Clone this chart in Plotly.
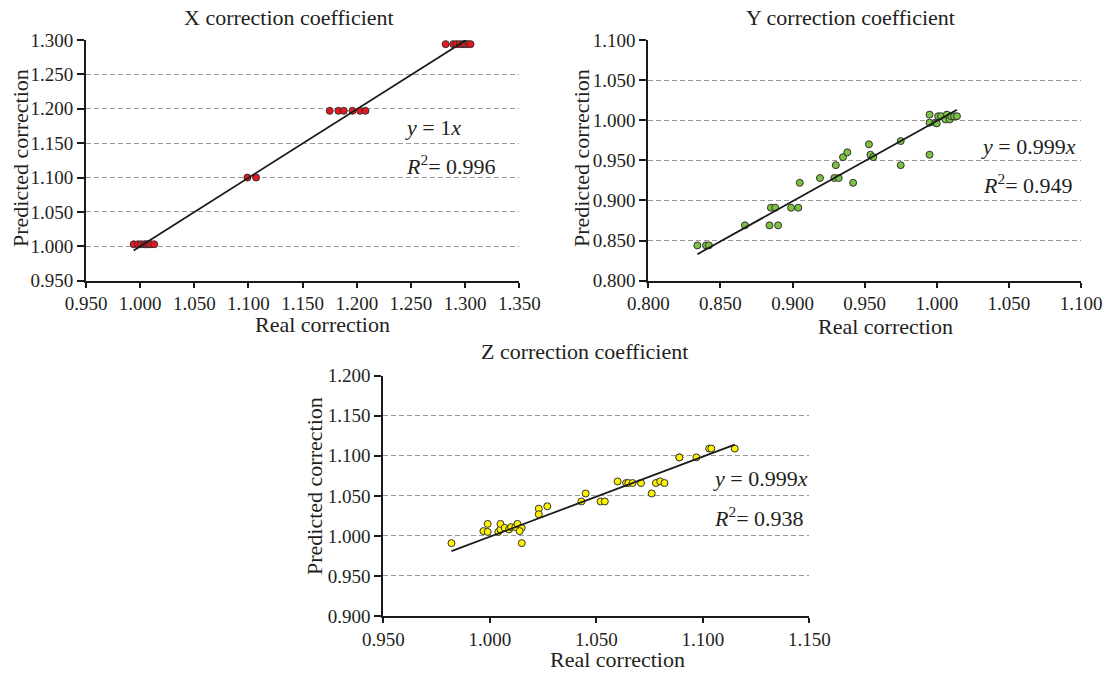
import plotly.graph_objects as go

W, H = 1112, 675
FONT = "Liberation Serif"
INK = "#231f20"

# ---------------- data ----------------
# X correction coefficient
x_real = [0.994, 0.998, 1.001, 1.004, 1.006, 1.008, 1.010, 1.013,
          1.099, 1.107,
          1.175, 1.183, 1.188, 1.196, 1.203, 1.208,
          1.282, 1.289, 1.292, 1.295, 1.298, 1.300, 1.303, 1.305]
x_pred = [1.003, 1.003, 1.003, 1.003, 1.003, 1.003, 1.003, 1.003,
          1.100, 1.100,
          1.197, 1.197, 1.197, 1.197, 1.197, 1.197,
          1.294, 1.294, 1.294, 1.294, 1.294, 1.294, 1.294, 1.294]
x_fit_real = [0.994, 1.301]
x_fit_pred = [0.994, 1.300]

# Y correction coefficient
y_real = [0.834, 0.840, 0.842, 0.867, 0.884, 0.890, 0.885, 0.888, 0.899, 0.904,
          0.905, 0.919, 0.929, 0.932, 0.930, 0.935, 0.938, 0.942, 0.953, 0.954,
          0.956, 0.975, 0.975, 0.995, 0.995, 0.995, 0.999, 1.000, 1.001, 1.003,
          1.006, 1.007, 1.009, 1.010, 1.012, 1.014]
y_pred = [0.844, 0.844, 0.844, 0.869, 0.869, 0.869, 0.891, 0.891, 0.891, 0.891,
          0.922, 0.928, 0.928, 0.928, 0.944, 0.954, 0.960, 0.922, 0.970, 0.957,
          0.954, 0.974, 0.944, 0.957, 1.007, 0.997, 0.997, 0.996, 1.005, 1.005,
          1.001, 1.007, 1.001, 1.005, 1.005, 1.005]
y_fit_real = [0.834, 1.014]
y_fit_pred = [0.833, 1.013]

# Z correction coefficient
z_real = [0.982, 0.997, 0.999, 0.999, 1.004, 1.005, 1.005, 1.007, 1.009, 1.010,
          1.012, 1.013, 1.015, 1.014, 1.015, 1.023, 1.023, 1.027, 1.043, 1.045,
          1.052, 1.054, 1.060, 1.064, 1.065, 1.067, 1.071, 1.076, 1.078, 1.080,
          1.082, 1.089, 1.089, 1.097, 1.103, 1.104, 1.115]
z_pred = [0.991, 1.006, 1.015, 1.005, 1.005, 1.008, 1.015, 1.010, 1.008, 1.011,
          1.011, 1.015, 1.010, 1.006, 0.991, 1.034, 1.027, 1.037, 1.043, 1.053,
          1.043, 1.043, 1.068, 1.066, 1.066, 1.066, 1.066, 1.053, 1.066, 1.068,
          1.066, 1.098, 1.098, 1.098, 1.109, 1.109, 1.109]
z_fit_real = [0.982, 1.115]
z_fit_pred = [0.981, 1.114]

titles = ["X correction coefficient", "Y correction coefficient", "Z correction coefficient"]
eq_lines = ["<i>y</i> = 1<i>x</i>", "<i>y</i> = 0.999<i>x</i>", "<i>y</i> = 0.999<i>x</i>"]
r2_lines = ["<i>R</i><sup>2</sup>= 0.996", "<i>R</i><sup>2</sup>= 0.949", "<i>R</i><sup>2</sup>= 0.938"]
x_label = "Real correction"
y_label = "Predicted correction"

colors = ["#e8161e", "#7cc242", "#fff200"]

# ---------------- layout helpers ----------------
def px_x(p):
    return p / W

def px_y(p):
    return 1 - p / H

fig = go.Figure()

series = [
    (x_real, x_pred, x_fit_real, x_fit_pred, "x", "y"),
    (y_real, y_pred, y_fit_real, y_fit_pred, "x2", "y2"),
    (z_real, z_pred, z_fit_real, z_fit_pred, "x3", "y3"),
]
for i, (xr, yp, fx, fy, xa, ya) in enumerate(series):
    fig.add_trace(go.Scatter(x=xr, y=yp, mode="markers", xaxis=xa, yaxis=ya,
                             marker=dict(size=7, color=colors[i],
                                         line=dict(color="#333333", width=1)),
                             showlegend=False, hoverinfo="skip"))
    fig.add_trace(go.Scatter(x=fx, y=fy, mode="lines", xaxis=xa, yaxis=ya,
                             line=dict(color="#1a1a1a", width=1.8),
                             showlegend=False, hoverinfo="skip"))

axis_common = dict(showline=True, linecolor="#1a1a1a", linewidth=1.8,
                   ticks="outside", tickwidth=1.5, tickcolor="#1a1a1a",
                   zeroline=False, tickformat=".3f", automargin=False,
                   tickfont=dict(family=FONT, size=19, color=INK))
xaxis_common = dict(axis_common, showgrid=False, ticklen=5)
yaxis_common = dict(axis_common, showgrid=True, gridcolor="#9a9a9a", gridwidth=1.2,
                    griddash="5px,3px", ticklen=7)

# pixel frames of the three plots (left, right, top, bottom)
frames = [(86, 519.3, 40, 280.7), (648.3, 1081, 40, 280.7), (383.3, 809.3, 375.7, 616)]
xranges = [[0.95, 1.35], [0.80, 1.10], [0.95, 1.15]]
yranges = [[0.95, 1.30], [0.80, 1.10], [0.90, 1.20]]

layout = dict(width=W, height=H, margin=dict(l=0, r=0, t=0, b=0, autoexpand=False),
              paper_bgcolor="white", plot_bgcolor="white", showlegend=False)
for i, (l, r, t, b) in enumerate(frames):
    sfx = "" if i == 0 else str(i + 1)
    layout["xaxis" + sfx] = dict(xaxis_common, domain=[px_x(l), px_x(r)],
                                 range=xranges[i], dtick=0.05, tick0=0.8,
                                 anchor="y" + sfx)
    layout["yaxis" + sfx] = dict(yaxis_common, domain=[px_y(b), px_y(t)],
                                 range=yranges[i], dtick=0.05, tick0=0.8,
                                 anchor="x" + sfx)
fig.update_layout(**layout)

ann = []
def add_text(text, x, y, size=22, angle=0, xanchor="center"):
    ann.append(dict(text=text, x=px_x(x), y=px_y(y), xref="paper", yref="paper",
                    xanchor=xanchor, yanchor="middle", showarrow=False, textangle=angle,
                    font=dict(family=FONT, size=size, color=INK)))

title_pos = [(289, 17), (850, 17), (584, 352)]
xlab_pos = [(322, 324), (885, 326), (617, 659)]
ylab_pos = [(20, 158), (581, 158), (314, 486)]
eq_pos = [(403, 127), (979, 146), (711, 478)]
r2_pos = [(404, 165), (981, 184), (712, 517)]

for i in range(3):
    add_text(titles[i], *title_pos[i])
    add_text(x_label, *xlab_pos[i])
    add_text(y_label, *ylab_pos[i], angle=-90)
    add_text(eq_lines[i], *eq_pos[i], xanchor="left")
    add_text(r2_lines[i], *r2_pos[i], xanchor="left")

fig.update_layout(annotations=ann)
fig.write_html("out.html")
